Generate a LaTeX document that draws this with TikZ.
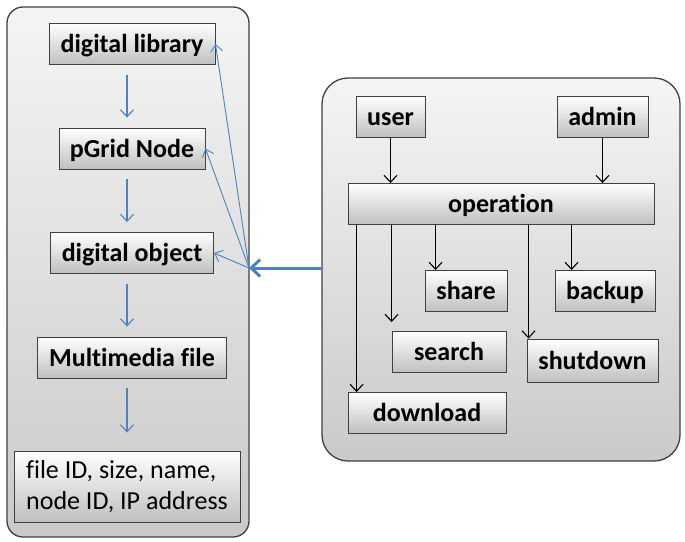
\documentclass[tikz,border=0pt]{standalone}
\usepackage{fontspec}
\setmainfont[Ligatures={NoCommon}]{Carlito}
\usetikzlibrary{positioning,arrows.meta,calc}

\definecolor{linkblue}{RGB}{79,129,189}
\definecolor{edgegray}{RGB}{64,64,64}

\begin{document}
\begin{tikzpicture}[x=1pt,y=-1pt,node distance=104.5pt,on grid,
  panel/.style={draw=edgegray,line width=1.3pt,rounded corners=16pt,
    top color=gray!8,bottom color=gray!42,inner sep=0pt},
  shaded box/.style={draw=edgegray,line width=0.9pt,top color=white,bottom color=gray!50,
    inner sep=0pt},
  box/.style={shaded box,font=\fontsize{26}{30}\selectfont\bfseries,
    text height=19pt,text depth=2pt,minimum height=41pt},
  flow/.style={-{Straight Barb[length=7pt,width=13pt]},linkblue,line width=1.1pt},
  link/.style={-{Straight Barb[length=7pt,width=12pt]},linkblue,line width=0.9pt},
  opflow/.style={-{Straight Barb[length=7pt,width=13pt]},line width=1.1pt}]
  \useasboundingbox[fill=white] (0,0) rectangle (685,541);

  % the two panels
  \node[panel,minimum width=242pt,minimum height=530pt] (lp) at (128,272) {};
  \node[panel,rounded corners=26pt,minimum width=358pt,minimum height=383pt] (rp) at (501,269.5) {};

  % left column
  \node[box,minimum width=166pt] (lib) at (132,44) {digital library};
  \node[box,minimum width=146pt] (pgrid) [below=of lib] {pGrid Node};
  \node[box,minimum width=163pt] (dobj) [below=of pgrid] {digital object};
  \node[box,minimum width=189pt] (mfile) [below=of dobj] {Multimedia file};
  \node[shaded box,minimum width=226pt,minimum height=71pt,align=left,
    font=\fontsize{26}{31}\selectfont] (finfo) [below=129pt of mfile,xshift=-5pt]
    {file ID, size, name,\\node ID, IP address};

  \draw[flow,shorten <=10pt,shorten >=10pt] ([xshift=-5pt]lib.south) -- ([xshift=-5pt]lib.south |- pgrid.north);
  \draw[flow,shorten <=10pt,shorten >=10pt] ([xshift=-5pt]pgrid.south) -- ([xshift=-5pt]pgrid.south |- dobj.north);
  \draw[flow,shorten <=10pt,shorten >=10pt] ([xshift=-5pt]dobj.south) -- ([xshift=-5pt]dobj.south |- mfile.north);
  \draw[flow,shorten <=10pt,shorten >=18pt] ([xshift=-5pt]mfile.south) -- ([xshift=-5pt]mfile.south |- finfo.north);

  \coordinate (hub) at (249,268);
  \draw[link] (hub) -- (lib.east);
  \draw[link] (hub) -- (pgrid.east);
  \draw[link] (hub) -- (dobj.east);
  \draw[-{Straight Barb[length=9pt,width=17pt]},linkblue,line width=3pt]
    (rp.west |- hub) -- (hub);

  % right panel
  \node[box,minimum width=69pt] (user) at (390.5,117) {user};
  \node[box,minimum width=91pt] (admin) at (602.5,117) {admin};
  \node[box,minimum width=306pt] (oper) at (501,204) {operation};
  \node[box,minimum width=82pt] (share) at (466,291) {share};
  \node[box,minimum width=100pt] (backup) at (605,291) {backup};
  \node[box,minimum width=114pt] (search) at (449,352) {search};
  \node[box,minimum width=131pt,minimum height=43pt] (shut) at (592.5,360.5) {shutdown};
  \node[box,minimum width=158pt] (down) at (427,413) {download};

  \draw[opflow] (user.south) -- (user.south |- oper.north);
  \draw[opflow] (admin.south) -- (admin.south |- oper.north);
  \draw[opflow] ([xshift=11pt]share.north west |- oper.south) -- ([xshift=11pt]share.north west);
  \draw[opflow] ([xshift=17pt]backup.north west |- oper.south) -- ([xshift=17pt]backup.north west);
  \draw[opflow] (search.north west |- oper.south) -- ([yshift=9pt]search.north west);
  \draw[opflow] ([xshift=2pt]shut.north west |- oper.south) -- ([xshift=2pt]shut.north west);
  \draw[opflow] ([xshift=9pt]down.north west |- oper.south) -- ([xshift=9pt]down.north west);
\end{tikzpicture}
\end{document}
